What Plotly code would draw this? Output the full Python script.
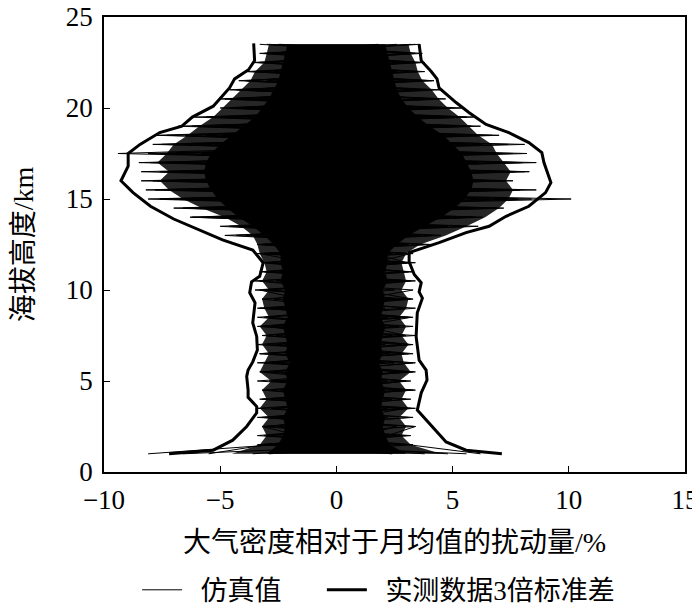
import plotly.graph_objects as go

# === Heights of the simulated profiles (km) ===
heights = [1.0, 1.5, 2.0, 2.5, 3.0, 3.5, 4.0, 4.5, 5.0, 5.5, 6.0, 6.5, 7.0, 7.5, 8.0, 8.5,
           9.0, 9.5, 10.0, 10.5, 11.0, 11.5, 12.0, 12.5, 13.0, 13.5, 14.0, 14.5, 15.0, 15.5,
           16.0, 16.5, 17.0, 17.5, 18.0, 18.5, 19.0, 19.5, 20.0, 20.5, 21.0, 21.5, 22.0,
           22.5, 23.0, 23.5]

# dense (solid) part of the simulated bundle
core_left = [-3.0, -2.5, -2.3, -2.2, -2.3, -2.1, -2.2, -2.3, -2.1, -2.2, -2.0, -2.2, -2.1, -2.2,
             -2.3, -2.1, -2.2, -2.3, -2.2, -2.4, -2.3, -2.4, -2.4, -2.7, -3.1, -3.6, -4.2, -4.7,
             -5.1, -5.4, -5.6, -5.7, -5.6, -5.4, -5.0, -4.5, -4.0, -3.5, -3.2, -2.9, -2.7, -2.5,
             -2.4, -2.3, -2.2, -2.1]
core_right = [3.0, 2.3, 2.1, 2.0, 2.1, 1.9, 2.0, 2.1, 1.9, 2.0, 1.8, 2.0, 1.9, 2.0, 2.1, 1.9,
              2.0, 2.1, 2.0, 2.2, 2.1, 2.2, 2.2, 2.6, 3.1, 3.8, 4.5, 5.1, 5.5, 5.8, 5.9, 5.8,
              5.6, 5.4, 5.0, 4.6, 4.0, 3.5, 3.1, 2.8, 2.6, 2.5, 2.4, 2.3, 2.2, 2.1]

# outer (hatched looking) part of the bundle
fringe_left = [-4.5, -3.3, -3.0, -3.2, -2.9, -3.3, -3.0, -3.2, -2.8, -3.3, -3.1, -2.9, -3.2, -3.0,
               -3.3, -2.9, -3.1, -3.2, -2.9, -3.2, -3.0, -3.1, -3.3, -3.4, -3.6, -4.1, -4.8, -5.8,
               -6.6, -7.2, -7.6, -7.2, -7.7, -7.3, -7.0, -6.4, -5.9, -5.3, -4.9, -4.5, -4.1, -3.7,
               -3.5, -3.1, -3.0, -2.9]
fringe_right = [4.5, 3.2, 2.8, 3.0, 2.7, 3.1, 2.8, 3.0, 2.7, 3.2, 2.9, 2.8, 3.1, 2.8, 3.0, 2.7,
                3.0, 3.1, 2.8, 3.0, 2.9, 2.8, 3.0, 3.6, 4.7, 5.6, 6.4, 7.0, 7.4, 7.6, 7.3, 7.5,
                7.2, 6.9, 6.7, 6.1, 5.7, 5.3, 4.8, 4.4, 4.1, 3.7, 3.5, 3.4, 3.2, 3.1]

# individual simulated profiles (%)
sim1 = [-8.1, -2.6, 1.4, -3.1, 2.2, -1.0, 3.0, -2.4, 0.6, -3.3, 2.5, -1.7, 3.2, -0.5, -2.9, 2.8,
        -3.0, 1.1, 3.3, -2.6, 0.9, -3.2, 2.4, -3.4, 4.2, -4.6, 6.3, -6.1, 10.1, -7.8, 5.2, -8.4,
        7.9, -9.4, 3.5, -7.3, 5.1, -3.8, 4.3, -4.5, 2.6, -3.9, 3.1, -2.2, 3.4, -2.9]
sim2 = [6.2, 3.1, -2.8, 2.0, -3.2, 1.6, -2.5, 3.3, -1.4, 2.7, -3.1, 0.8, -2.2, 3.0, 1.2, -3.4,
        2.1, -2.7, -0.6, 3.2, -3.0, 2.6, -2.9, 3.8, -3.6, 5.6, -5.0, 7.2, -7.6, 8.6, -8.4, 6.8,
        -5.4, 8.2, -7.9, 6.1, -4.9, 5.6, -4.4, 3.7, -3.6, 4.1, -2.7, 3.3, -3.1, 3.6]
sim3 = [-5.5, -3.0, 2.6, -1.8, 3.1, -2.7, 1.5, -3.2, 2.9, -0.9, 3.3, -2.8, 1.9, -3.1, 2.6, -1.6,
        3.4, -2.3, 2.0, -3.3, 3.1, -1.2, -3.3, 2.9, -4.8, 4.4, -6.2, 5.8, -5.9, 7.4, -7.0, 8.1,
        -8.0, 5.9, -7.5, 4.6, -6.0, 3.9, -4.6, 2.8, -4.2, 3.5, -3.2, 2.7, -2.6, 3.2]
sim4 = [4.8, -2.2, 3.2, -2.9, 0.7, 3.0, -3.3, 1.8, -2.6, 3.4, -1.5, 2.9, -3.4, 1.6, -2.2, 3.1,
        -1.0, 3.2, -3.1, 1.4, -2.5, 3.0, 1.7, -2.8, 3.6, -3.9, 4.9, -5.5, 6.6, -6.9, 7.6, -6.4,
        7.0, -8.1, 6.3, -5.6, 6.2, -5.0, 3.8, -3.9, 3.3, -2.6, 3.5, -3.0, 1.9, -2.4]
sim5 = [-3.6, 1.9, -3.1, 3.4, -2.4, 2.2, -1.2, 3.1, -3.4, 1.7, -2.6, 3.3, -1.1, 2.4, -3.4, 1.3,
        -2.5, 3.0, -3.5, 2.3, -1.8, 3.2, -3.0, 2.6, -3.0, 4.8, -5.6, 6.0, -7.2, 5.9, -6.1, 8.3,
        -6.6, 7.2, -6.0, 7.0, -5.4, 4.5, -5.0, 4.2, -3.2, 3.0, -3.6, 3.8, -2.8, 1.8]
sim6 = [2.4, -3.3, 1.1, 2.6, -3.0, 3.2, -2.0, -0.4, 3.0, -3.1, 1.2, -1.9, 2.8, -2.6, 3.3, -3.0,
        0.5, -3.2, 2.5, -2.2, 3.3, -3.1, 2.9, -3.2, 3.3, -4.2, 5.8, -7.0, 5.5, -6.4, 6.9, -7.6,
        8.6, -6.9, 5.6, -6.5, 4.4, -4.6, 3.7, -5.0, 3.9, -3.0, 2.6, -3.4, 3.7, -2.5]
sim7 = [-2.9, 3.3, -1.6, -3.2, 1.9, -2.8, 3.2, -3.0, 2.2, -1.3, 3.4, -3.3, 2.1, -3.2, 1.0, 3.2,
        -3.4, 2.6, -2.0, 3.1, -3.3, 1.6, 3.2, -3.1, 2.2, -5.0, 4.0, -6.6, 7.8, -5.6, 7.3, -7.1,
        6.1, -7.6, 7.4, -4.9, 5.8, -5.6, 4.8, -3.4, 4.5, -3.8, 2.4, -2.8, 2.9, -3.3]
sim8 = [5.6, -3.4, 3.0, -2.5, 3.3, -3.4, 2.4, -2.0, 3.2, -2.7, 2.1, -3.3, 3.3, -1.8, 2.7, -3.1,
        3.0, -1.5, -3.3, 2.6, -2.2, 3.4, -2.6, 3.1, -4.3, 3.9, -5.3, 6.9, -6.6, 7.9, -7.7, 7.0,
        -7.2, 6.5, -5.2, 6.7, -6.2, 4.8, -3.9, 4.7, -4.3, 3.7, -3.3, 3.0, -3.3, 3.4]
sim9 = [-6.6, 2.8, -3.4, 1.2, -2.6, 3.4, -3.1, 2.7, -2.9, 3.1, -3.4, 2.3, -2.6, 3.4, -3.2, 2.2,
        -3.3, 3.3, 1.0, -3.5, 2.8, -2.9, 3.3, -3.3, 4.5, -3.2, 6.0, -5.0, 8.4, -8.2, 6.2, -6.8,
        8.0, -5.8, 8.1, -7.8, 5.3, -6.1, 5.5, -4.8, 3.6, -4.2, 3.8, -3.6, 3.2, -3.0]
sim10 = [3.8, -3.0, 2.2, 3.4, -3.4, 2.8, -3.2, 3.4, -2.2, 3.3, -2.9, 3.1, -3.0, 2.9, -2.7, 3.3,
         -2.8, 2.5, -3.0, 3.4, -3.1, 3.0, -3.4, 4.1, -3.9, 6.1, -6.3, 5.2, -8.1, 6.9, -7.9, 7.7,
         -8.5, 7.6, -6.6, 5.3, -6.8, 5.9, -4.1, 4.4, -4.6, 4.2, -3.9, 3.6, -2.9, 2.6]
sims = [sim1, sim2, sim3, sim4, sim5, sim6, sim7, sim8, sim9, sim10]

# === 3-sigma envelope of the measured data ===
env_left_h = [1.0, 1.2, 1.75, 2.5, 3.25, 3.6, 4.1, 4.5, 5.25, 5.6, 6.05, 6.7, 7.45, 8.2, 9.3,
              9.85, 10.45, 10.75, 11.5, 12.2, 12.75, 13.3, 13.9, 14.6, 15.35, 16.0, 16.45,
              16.8, 17.5, 18.0, 18.65, 19.0, 19.5, 20.1, 21.1, 21.6, 22.1, 22.6, 23.55]
env_left_x = [-7.2, -5.3, -4.46, -3.86, -3.43, -3.43, -3.8, -3.8, -3.86, -3.8, -3.6, -3.4,
              -3.43, -3.6, -3.5, -3.73, -3.65, -3.3, -3.15, -3.6, -4.9, -5.9, -7.0, -8.0,
              -8.75, -9.27, -9.1, -8.96, -8.96, -8.45, -7.6, -6.65, -6.2, -5.3, -4.6, -4.38,
              -3.78, -3.52, -3.56]
env_right_h = [1.0, 1.2, 1.65, 2.7, 3.4, 4.35, 5.05, 5.6, 6.15, 7.45, 8.75, 9.55, 9.9, 10.4,
               10.85, 11.55, 12.05, 12.6, 13.15, 13.5, 14.05, 14.6, 15.35, 15.9, 16.2, 17.0,
               17.55, 18.1, 18.65, 19.1, 19.75, 20.3, 21.1, 21.6, 22.0, 22.6, 23.5]
env_right_x = [7.12, 5.58, 4.72, 4.0, 3.48, 3.65, 3.9, 3.86, 3.56, 3.43, 3.48, 3.7, 3.56, 3.65,
               3.35, 3.13, 3.13, 4.42, 5.58, 6.57, 7.3, 8.28, 9.0, 9.23, 9.14, 8.93, 8.84, 8.28,
               7.42, 6.44, 5.7, 5.15, 4.42, 4.33, 4.08, 3.65, 3.56]

FONT = "Liberation Serif, Times New Roman, Noto Sans CJK SC, serif"

fig = go.Figure()

# bundle shading (outer, then solid core)
fig.add_trace(go.Scatter(
    x=fringe_left + fringe_right[::-1],
    y=heights + heights[::-1],
    fill="toself", fillcolor="rgba(0,0,0,0.85)",
    line=dict(width=0), mode="lines", showlegend=False, hoverinfo="skip"
))
fig.add_trace(go.Scatter(
    x=core_left + core_right[::-1],
    y=heights + heights[::-1],
    fill="toself", fillcolor="black",
    line=dict(width=0), mode="lines", showlegend=False, hoverinfo="skip"
))

# thin simulated profiles, one trace with gaps
xs, ys = [], []
for s in sims:
    xs += s + [None]
    ys += heights + [None]
fig.add_trace(go.Scatter(
    x=xs, y=ys, mode="lines", name="\u00a0\u00a0仿真值", legend="legend",
    line=dict(color="black", width=1)
))

# thick envelope
fig.add_trace(go.Scatter(
    x=env_left_x + [None] + env_right_x,
    y=env_left_h + [None] + env_right_h,
    mode="lines", name="\u00a0\u00a0实测数据3倍标准差", legend="legend2",
    line=dict(color="black", width=3)
))

# page body has an 8px margin, so the figure is 8px smaller than the window
fig.update_layout(
    width=692, height=604,
    margin=dict(l=96, r=15, t=9, b=140),
    paper_bgcolor="white", plot_bgcolor="white",
    font=dict(family=FONT, size=27, color="black"),
    showlegend=True,
    legend=dict(
        orientation="h", x=0.057, xanchor="left",
        yref="container", y=0.036, yanchor="middle",
        font=dict(size=27), itemwidth=40, bgcolor="rgba(0,0,0,0)"
    ),
    legend2=dict(
        orientation="h", x=0.375, xanchor="left",
        yref="container", y=0.036, yanchor="middle",
        font=dict(size=27), itemwidth=40, bgcolor="rgba(0,0,0,0)"
    )
)

fig.update_xaxes(
    range=[-10, 15], tickvals=[-10, -5, 0, 5, 10, 15], automargin=False,
    ticks="inside", ticklen=6, tickwidth=1.2, tickcolor="black", ticklabelstandoff=3,
    ticklabeloverflow="allow",
    showline=True, linecolor="black", linewidth=1.6, mirror=True,
    showgrid=False, zeroline=False,
    title=dict(text="大气密度相对于月均值的扰动量/%", font=dict(size=28), standoff=18)
)
fig.update_yaxes(
    range=[0, 25], tickvals=[0, 5, 10, 15, 20, 25], automargin=False,
    ticks="inside", ticklen=6, tickwidth=1.2, tickcolor="black", ticklabelstandoff=4,
    ticklabeloverflow="allow",
    showline=True, linecolor="black", linewidth=1.6, mirror=True,
    showgrid=False, zeroline=False,
    title=dict(text="海拔高度/km", font=dict(size=28), standoff=44)
)

fig.write_html("out.html")
